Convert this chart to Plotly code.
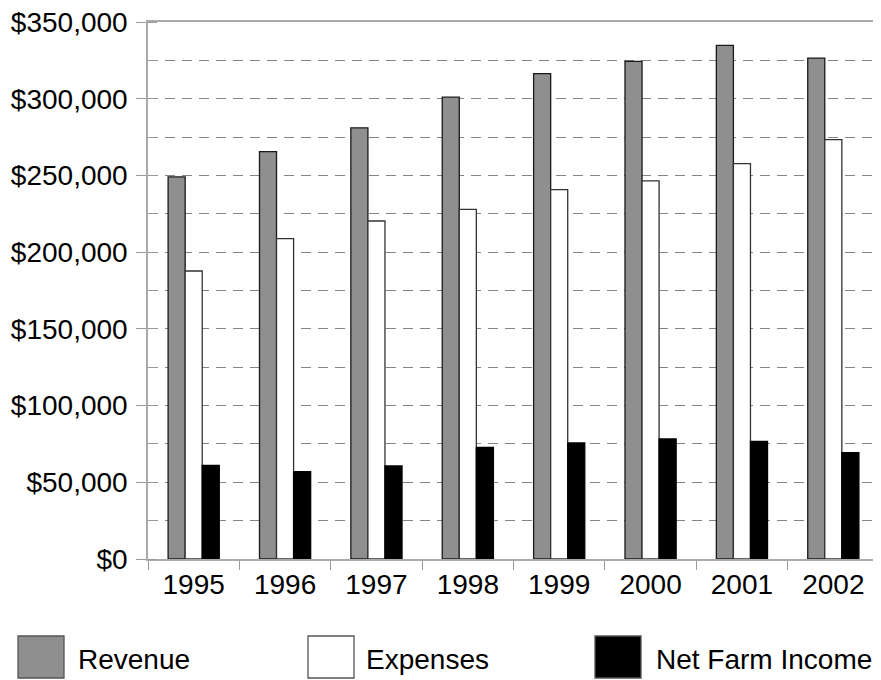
import plotly.graph_objects as go

years = ["1995", "1996", "1997", "1998", "1999", "2000", "2001", "2002"]
revenue = [249000, 265500, 281000, 301000, 316400, 324400, 334800, 326500]
expenses = [187700, 208800, 220300, 227900, 240800, 246400, 257700, 273400]
net_income = [61000, 57000, 60600, 72800, 75600, 78200, 76700, 69300]
series_names = ["Revenue", "Expenses", "Net Farm Income"]
y_tick_values = [0, 50000, 100000, 150000, 200000, 250000, 300000, 350000]
y_tick_text = ["${:,}".format(v) for v in y_tick_values]

OFF = 8  # default page body margin
W, H = 881 - OFF, 680 - OFF
L, R, T, B = 148 - OFF, 2, 22 - OFF, 121
PW, PH = W - L - R, H - T - B

def px_x(px):
    return (px - OFF - L) / PW

def px_y(py):
    return (H - B - (py - OFF)) / PH

FONT = "Liberation Sans, Arial, sans-serif"
FS = 28
fills = ["#8f8f8f", "#ffffff", "#000000"]
lines = ["#1a1a1a", "#333333", "#000000"]
values = [revenue, expenses, net_income]

fig = go.Figure()
for name, vals, fc, lc in zip(series_names, values, fills, lines):
    fig.add_trace(go.Bar(x=years, y=vals, name=name, marker=dict(color=fc, line=dict(color=lc, width=1.3)),
                         showlegend=False))

fig.update_layout(
    width=W, height=H,
    margin=dict(l=L, r=R, t=T, b=B, pad=0, autoexpand=False),
    paper_bgcolor="white", plot_bgcolor="white",
    barmode="group", bargap=0.44, bargroupgap=0,
    font=dict(family=FONT, size=FS, color="#000"),
)

fig.update_yaxes(
    range=[0, 350000], tickvals=y_tick_values, ticktext=y_tick_text,
    showgrid=True, gridcolor="#858585", griddash="10px,7px", gridwidth=1,
    ticks="outside", ticklen=10, tickcolor="#9a9a9a", ticklabelstandoff=3,
    ticklabeloverflow="allow",
    minor=dict(dtick=25000, tick0=0, showgrid=True, gridcolor="#858585", griddash="10px,7px",
               ticks="inside", ticklen=9, tickcolor="#9a9a9a"),
    showline=True, linecolor="#aaaaaa", linewidth=1.5, mirror=True, zeroline=False,
    tickfont=dict(size=FS),
)
fig.update_xaxes(
    type="category", tickson="boundaries", ticks="outside", ticklen=9, tickcolor="#9a9a9a",
    showline=True, linecolor="#aaaaaa", linewidth=1.5, mirror=True, showgrid=False,
    ticklabeloverflow="allow",
    tickfont=dict(size=FS),
)

# legend drawn as boxes and labels below the plot
box_left = [18, 308, 595]
text_left = [76, 364, 654]
box_w, box_top, box_bot = 46, 636, 678
shapes = []
annotations = []
for i, name in enumerate(series_names):
    shapes.append(dict(type="rect", xref="paper", yref="paper",
                       x0=px_x(box_left[i]), x1=px_x(box_left[i] + box_w),
                       y0=px_y(box_bot), y1=px_y(box_top),
                       fillcolor=fills[i], line=dict(color="#555555", width=1.3)))
    annotations.append(dict(xref="paper", yref="paper", x=px_x(text_left[i]), y=px_y(659),
                            xanchor="left", yanchor="middle", showarrow=False, text=name,
                            font=dict(size=FS, family=FONT, color="#000")))
fig.update_layout(shapes=shapes, annotations=annotations)

fig.write_html("out.html")
